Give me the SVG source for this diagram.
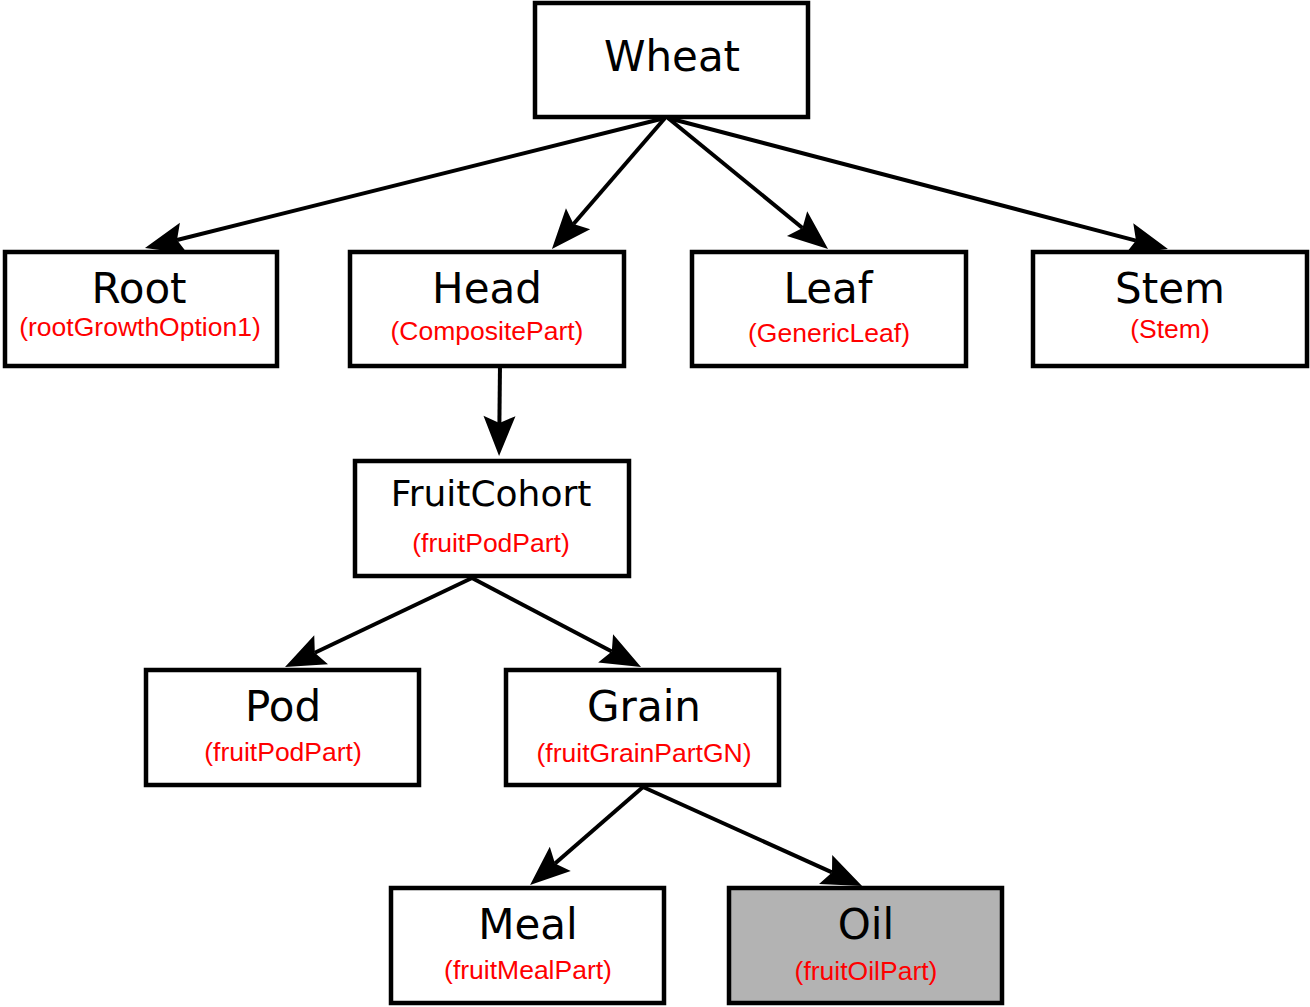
<svg xmlns="http://www.w3.org/2000/svg" width="1310" height="1007" viewBox="0 0 1310 1007">
<style>
.box{fill:#fff;stroke:#000;stroke-width:4.5}
.grey{fill:#b3b3b3}
.t{font-family:"DejaVu Sans",sans-serif;font-size:42px;fill:#000;text-anchor:middle}
.s{font-family:"Liberation Sans",Arial,sans-serif;font-size:26.5px;fill:#f00;text-anchor:middle}
.c{fill:none;stroke:#000;stroke-width:4}
</style>
<defs>
<marker id="arr" markerUnits="userSpaceOnUse" viewBox="-42 -18 44 36" markerWidth="44" markerHeight="36" refX="-33" refY="0" orient="auto">
<path d="M0,0 L-40,-16 L-33,0 L-40,16 Z" fill="#000"/>
</marker>
</defs>
<g id="connectors">
<line class="c" x1="665" y1="118" x2="177" y2="240" marker-end="url(#arr)"/>
<line class="c" x1="665" y1="118" x2="573.5" y2="224" marker-end="url(#arr)"/>
<line class="c" x1="668" y1="118" x2="802.5" y2="228" marker-end="url(#arr)"/>
<line class="c" x1="668" y1="118" x2="1136" y2="240.6" marker-end="url(#arr)"/>
<line class="c" x1="500" y1="364" x2="499.4" y2="423" marker-end="url(#arr)"/>
<line class="c" x1="472" y1="578" x2="314.8" y2="652.8" marker-end="url(#arr)"/>
<line class="c" x1="472" y1="578" x2="611.8" y2="651.6" marker-end="url(#arr)"/>
<line class="c" x1="643" y1="787" x2="555" y2="863.4" marker-end="url(#arr)"/>
<line class="c" x1="643" y1="787" x2="832" y2="872.4" marker-end="url(#arr)"/>
</g>
<g id="wheat">
<rect class="box" x="535" y="3" width="273" height="114"/>
<text class="t" x="672" y="71">Wheat</text>
</g>
<g id="root">
<rect class="box" x="5" y="252" width="272" height="114"/>
<text class="t" x="139" y="303">Root</text>
<text class="s" x="140" y="336">(rootGrowthOption1)</text>
</g>
<g id="head">
<rect class="box" x="350" y="252" width="274" height="114"/>
<text class="t" x="487" y="303">Head</text>
<text class="s" x="487" y="340">(CompositePart)</text>
</g>
<g id="leaf">
<rect class="box" x="692" y="252" width="274" height="114"/>
<text class="t" x="828" y="303">Leaf</text>
<text class="s" x="829" y="342">(GenericLeaf)</text>
</g>
<g id="stem">
<rect class="box" x="1033" y="252" width="274" height="114"/>
<text class="t" x="1170" y="303">Stem</text>
<text class="s" x="1170" y="338">(Stem)</text>
</g>
<g id="fruitcohort">
<rect class="box" x="355" y="461" width="274" height="115"/>
<text class="t" x="491" y="506" style="font-size:36px">FruitCohort</text>
<text class="s" x="491" y="552">(fruitPodPart)</text>
</g>
<g id="pod">
<rect class="box" x="146" y="670" width="273" height="115"/>
<text class="t" x="283" y="721">Pod</text>
<text class="s" x="283" y="761">(fruitPodPart)</text>
</g>
<g id="grain">
<rect class="box" x="506" y="670" width="273" height="115"/>
<text class="t" x="644" y="721">Grain</text>
<text class="s" x="644" y="762">(fruitGrainPartGN)</text>
</g>
<g id="meal">
<rect class="box" x="391" y="888" width="273" height="115"/>
<text class="t" x="528" y="939">Meal</text>
<text class="s" x="528" y="979">(fruitMealPart)</text>
</g>
<g id="oil">
<rect class="box grey" x="729" y="888" width="273" height="115"/>
<text class="t" x="866" y="939">Oil</text>
<text class="s" x="866" y="980">(fruitOilPart)</text>
</g>
</svg>
